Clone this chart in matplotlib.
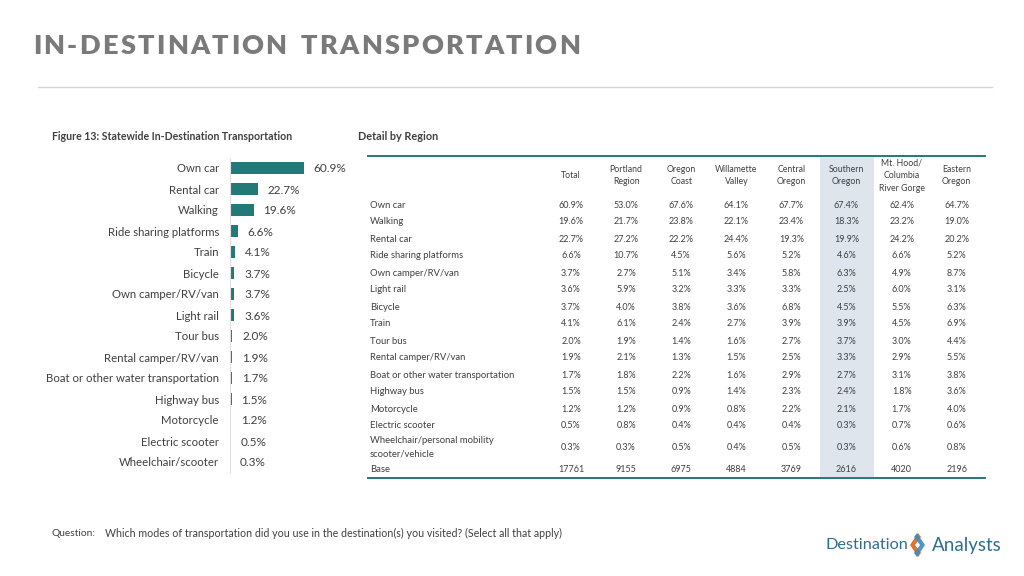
import matplotlib
matplotlib.use("Agg")
import matplotlib.pyplot as plt
import numpy as np
from matplotlib.patches import Rectangle, Polygon

plt.rcParams['font.family'] = ['Lato', 'DejaVu Sans']

# ---------------- data ----------------
bar_categories = ["Own car", "Rental car", "Walking", "Ride sharing platforms", "Train",
                  "Bicycle", "Own camper/RV/van", "Light rail", "Tour bus",
                  "Rental camper/RV/van", "Boat or other water transportation",
                  "Highway bus", "Motorcycle", "Electric scooter", "Wheelchair/scooter"]
bar_values = [60.9, 22.7, 19.6, 6.6, 4.1, 3.7, 3.7, 3.6, 2.0, 1.9, 1.7, 1.5, 1.2, 0.5, 0.3]

table_columns = ["Total", "Portland\nRegion", "Oregon\nCoast", "Willamette\nValley",
                 "Central\nOregon", "Southern\nOregon", "Mt. Hood/\nColumbia\nRiver Gorge",
                 "Eastern\nOregon"]
table_rows = ["Own car", "Walking", "Rental car", "Ride sharing platforms",
              "Own camper/RV/van", "Light rail", "Bicycle", "Train", "Tour bus",
              "Rental camper/RV/van", "Boat or other water transportation",
              "Highway bus", "Motorcycle", "Electric scooter",
              "Wheelchair/personal mobility\nscooter/vehicle"]
col_total      = [60.9, 19.6, 22.7, 6.6, 3.7, 3.6, 3.7, 4.1, 2.0, 1.9, 1.7, 1.5, 1.2, 0.5, 0.3]
col_portland   = [53.0, 21.7, 27.2, 10.7, 2.7, 5.9, 4.0, 6.1, 1.9, 2.1, 1.8, 1.5, 1.2, 0.8, 0.3]
col_coast      = [67.6, 23.8, 22.2, 4.5, 5.1, 3.2, 3.8, 2.4, 1.4, 1.3, 2.2, 0.9, 0.9, 0.4, 0.5]
col_willamette = [64.1, 22.1, 24.4, 5.6, 3.4, 3.3, 3.6, 2.7, 1.6, 1.5, 1.6, 1.4, 0.8, 0.4, 0.4]
col_central    = [67.7, 23.4, 19.3, 5.2, 5.8, 3.3, 6.8, 3.9, 2.7, 2.5, 2.9, 2.3, 2.2, 0.4, 0.5]
col_southern   = [67.4, 18.3, 19.9, 4.6, 6.3, 2.5, 4.5, 3.9, 3.7, 3.3, 2.7, 2.4, 2.1, 0.3, 0.3]
col_mthood     = [62.4, 23.2, 24.2, 6.6, 4.9, 6.0, 5.5, 4.5, 3.0, 2.9, 3.1, 1.8, 1.7, 0.7, 0.6]
col_eastern    = [64.7, 19.0, 20.2, 5.2, 8.7, 3.1, 6.3, 6.9, 4.4, 5.5, 3.8, 3.6, 4.0, 0.6, 0.8]
base_counts = [17761, 9155, 6975, 4884, 3769, 2616, 4020, 2196]
highlight_col = 5

table_values = [col_total, col_portland, col_coast, col_willamette, col_central,
                col_southern, col_mthood, col_eastern]

# ---------------- styles ----------------
TEAL = "#217a78"
TXT = "#404040"
W, H = 1024, 576

fig = plt.figure(figsize=(W / 100, H / 100), dpi=100)
fig.patch.set_facecolor("white")

# overlay axes in pixel coordinates for text/table/decoration
ov = fig.add_axes([0, 0, 1, 1])
ov.set_xlim(0, W)
ov.set_ylim(H, 0)
ov.axis("off")

# ---- title with letter spacing ----
title = "IN-DESTINATION TRANSPORTATION"
renderer = fig.canvas.get_renderer()
tfs = 19.5
widths = []
for ch in title:
    t = ov.text(0, 0, ch if ch != " " else "n", fontsize=tfs, fontweight="bold")
    bb = t.get_window_extent(renderer)
    widths.append(bb.width if ch != " " else bb.width * 0.6)
    t.remove()
x0, x1 = 33, 580
track = (x1 - x0 - sum(widths)) / (len(title) - 1)
x = x0
for ch, w in zip(title, widths):
    ov.text(x, 46, ch, fontsize=tfs, fontweight="heavy", color="#7a7a7a",
            va="center", ha="left")
    x += w + track

ov.plot([38, 992], [87, 87], color="#d6d6d6", lw=1)

ov.text(52, 135, "Figure 13: Statewide In-Destination Transportation", fontsize=7.6,
        fontweight="bold", color=TXT, va="center_baseline")
ov.text(358, 135, "Detail by Region", fontsize=7.8, fontweight="bold", color=TXT,
        va="center_baseline")

# ---- bar chart ----
ax = fig.add_axes([230 / W, 1 - 472.5 / H, 125 / W, 315 / H])
y = np.arange(len(bar_categories))
ax.barh(y, bar_values, height=0.58, color=TEAL)
ax.set_ylim(len(bar_categories) - 0.5, -0.5)
ax.set_xlim(0, 125 / 1.215)
for s in ["top", "right", "bottom"]:
    ax.spines[s].set_visible(False)
ax.spines["left"].set_color("#e0e0e0")
ax.set_xticks([])
ax.set_yticks(y)
ax.set_yticklabels(bar_categories, fontsize=8.2, color=TXT, va="center_baseline")
ax.tick_params(axis="y", length=0, pad=8)
ax.patch.set_alpha(0)
for yi, v in zip(y, bar_values):
    ax.annotate(f"{v:.1f}%", (v, yi), xytext=(7, 0), textcoords="offset points",
                va="center_baseline", ha="left", fontsize=8.5, color=TXT)

# ---- table ----
col_x0, col_dx = 571, 55.1
col_x = [col_x0 + i * col_dx for i in range(len(table_columns))]
hx = col_x[highlight_col]
ov.add_patch(Rectangle((hx - 27, 157), 54, 320, color="#dfe5ed", lw=0, zorder=0))
ov.plot([368, 985], [156, 156], color=TEAL, lw=1.4)
ov.plot([368, 985], [477.5, 477.5], color=TEAL, lw=1.4)

fs_t = 6.5
for cx, name in zip(col_x, table_columns):
    ov.text(cx, 175.5, name, fontsize=6.3, color=TXT, ha="center", va="center",
            linespacing=1.55, multialignment="center")

row_y = [204 + 17 * i for i in range(len(table_rows) - 1)]
row_y.append(row_y[-1] + 22)
for ry, name in zip(row_y, table_rows):
    ov.text(370, ry, name, fontsize=6.8, color=TXT, ha="left",
            va="center_baseline" if "\n" not in name else "center",
            linespacing=1.6)

for cx, vals in zip(col_x, table_values):
    for ry, v in zip(row_y, vals):
        ov.text(cx, ry, f"{v:.1f}%", fontsize=fs_t, color=TXT, ha="center",
                va="center_baseline")

base_y = row_y[-1] + 21
ov.text(370, base_y, "Base", fontsize=6.8, color=TXT, ha="left", va="center_baseline")
for cx, b in zip(col_x, base_counts):
    ov.text(cx, base_y, f"{b}", fontsize=fs_t, color=TXT, ha="center",
            va="center_baseline")

# ---- footer ----
ov.text(52, 532, "Question:", fontsize=7.4, color=TXT, va="center_baseline")
ov.text(105, 532, "Which modes of transportation did you use in the destination(s) you visited? (Select all that apply)",
        fontsize=7.7, color=TXT, va="center_baseline")

LOGO = "#2f6f8c"
ov.text(908, 545, "Destination", fontsize=11.7, color=LOGO, ha="right", va="center")
ov.text(932, 545, "Analysts", fontsize=13.5, color=LOGO, ha="left", va="center")
ov.add_patch(Polygon([(918, 533), (910, 545), (918, 557), (921, 553), (915, 545), (921, 537)],
                     closed=True, color="#e2702f", lw=0))
ov.add_patch(Polygon([(917, 533), (925, 545), (917, 557), (914, 553), (920, 545), (914, 537)],
                     closed=True, color="#3b8bc0", lw=0, alpha=0.9))

fig.savefig("out.png", dpi=100, facecolor="white")
